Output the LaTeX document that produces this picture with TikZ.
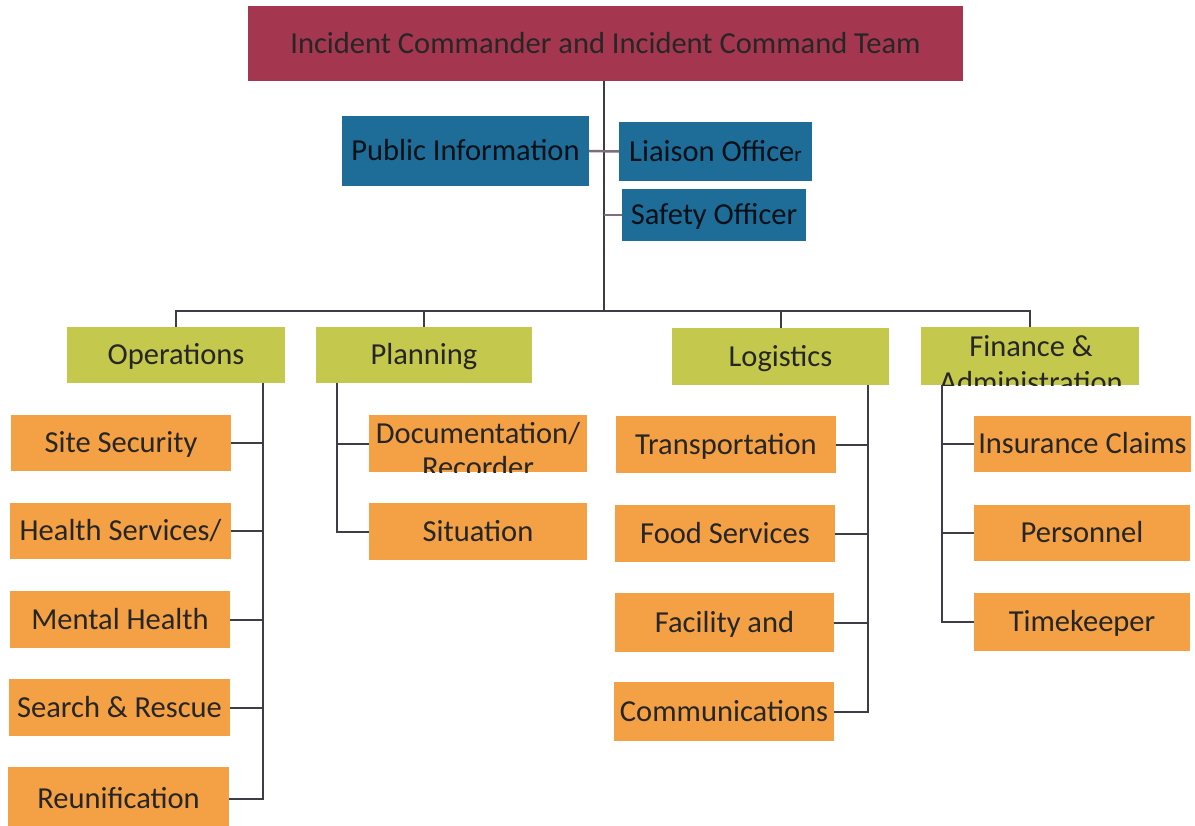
\documentclass[tikz,border=0pt]{standalone}
\usepackage{fontspec}
\setmainfont{Carlito}
\newcommand\dfont{\fontsize{30.5}{35}\selectfont}
\definecolor{cred}{HTML}{A5364F}
\definecolor{cblue}{HTML}{1E6C98}
\definecolor{cyel}{HTML}{C4C84C}
\definecolor{corg}{HTML}{F4A044}
\definecolor{txt}{HTML}{262626}
\definecolor{linec}{HTML}{3E3C46}
\definecolor{linel}{HTML}{7E6E7A}
\tikzset{
  box/.style={draw=none, inner sep=0pt, text height=19.6pt, text depth=0pt, font=\dfont, text=txt},
  redbox/.style={box, fill=cred},
  bluebox/.style={box, fill=cblue, text=black!85!cblue},
  yelbox/.style={box, fill=cyel},
  orgbox/.style={box, fill=corg},
  plain/.style={inner sep=0pt, font=\dfont, text=txt},
  conn/.style={draw=linec, line width=2pt},
  connl/.style={draw=linel, line width=2.5pt}
}
\begin{document}
\begin{tikzpicture}[x=1pt, y=-1pt]
\fill[white] (0,0) rectangle (1195,826);
\useasboundingbox (0,0) rectangle (1195,826);

% top
\node[redbox, minimum width=715, minimum height=75] (top) at (605.5,43.5) {Incident Commander and Incident Command Team};
\node[bluebox, minimum width=247, minimum height=70] (pub) at (465.5,151) {Public Information};
\node[bluebox, minimum width=193, minimum height=59] (liai) at (715.5,151.5) {Liaison Office{\fontsize{21}{21}\selectfont r}};
\node[bluebox, minimum width=184, minimum height=52] (safe) at (714,215) {Safety Officer};

% sections
\node[yelbox, minimum width=218, minimum height=56] (ops) at (176,355) {Operations};
\node[yelbox, minimum width=216, minimum height=56] (pln) at (424,355) {Planning};
\node[yelbox, minimum width=217, minimum height=57] (log) at (780.5,356.5) {Logistics};
\node[yelbox, minimum width=218, minimum height=58] (fin) at (1030,356) {};
\begin{scope}
  \clip (fin.south west) rectangle (fin.north east);
  \node[plain, anchor=base] (fin1) at (1031,357) {Finance \&};
  \node[plain, anchor=base] (fin2) at (1031,392) {Administration};
\end{scope}

% operations children
\node[orgbox, minimum width=220, minimum height=56] (site) at (121,443) {Site Security};
\node[orgbox, minimum width=221, minimum height=56] (hlth) at (120.5,531) {Health Services/};
\node[orgbox, minimum width=220, minimum height=57] (ment) at (120,619.5) {Mental Health};
\node[orgbox, minimum width=221, minimum height=57] (srch) at (119.5,707.5) {Search \& Rescue};
\node[orgbox, minimum width=221, minimum height=63] (reun) at (118.5,798.5) {Reunification};

% planning children
\node[orgbox, minimum width=218, minimum height=57] (doc) at (478,443.5) {};
\begin{scope}
  \clip (doc.south west) rectangle (doc.north east);
  \node[plain, anchor=base] (doc1) at (478,443) {Documentation/};
  \node[plain, anchor=base] (doc2) at (478,478) {Recorder};
\end{scope}
\node[orgbox, minimum width=218, minimum height=57] (sit) at (478,531.5) {Situation};

% logistics children
\node[orgbox, minimum width=220, minimum height=57] (trn) at (726,444.5) {Transportation};
\node[orgbox, minimum width=220, minimum height=57] (food) at (725,533.5) {Food Services};
\node[orgbox, minimum width=219, minimum height=59] (fac) at (724.5,622.5) {Facility and};
\node[orgbox, minimum width=220, minimum height=59] (comm) at (724,711.5) {Communications};

% finance children
\node[orgbox, minimum width=217, minimum height=56] (ins) at (1082.5,444) {Insurance Claims};
\node[orgbox, minimum width=216, minimum height=56] (pers) at (1082,533) {Personnel};
\node[orgbox, minimum width=216, minimum height=58] (time) at (1082,622) {Timekeeper};

% connector coordinates
\coordinate (busC) at (604,311);
\coordinate (opsT) at (263,383);
\coordinate (plnT) at (337,383);
\coordinate (logT) at (868,385);
\coordinate (finT) at (942,385);

% connectors
\draw[conn] (top.south -| busC) -- (busC);
\draw[connl] (pub.east) -- (liai.west);
\draw[connl] (safe.west -| busC) -- (safe.west);
\draw[conn] (ops.north) |- (busC) -| (fin.north);
\draw[conn] (pln.north) -- (pln.north |- busC);
\draw[conn] (log.north) -- (log.north |- busC);

\draw[conn] (opsT) |- (reun.east);
\draw[conn] (site.east) -- (site.east -| opsT);
\draw[conn] (hlth.east) -- (hlth.east -| opsT);
\draw[conn] (ment.east) -- (ment.east -| opsT);
\draw[conn] (srch.east) -- (srch.east -| opsT);

\draw[conn] (plnT) |- (sit.west);
\draw[conn] (doc.west) -- (doc.west -| plnT);

\draw[conn] (logT) |- (comm.east);
\draw[conn] (trn.east) -- (trn.east -| logT);
\draw[conn] (food.east) -- (food.east -| logT);
\draw[conn] (fac.east) -- (fac.east -| logT);

\draw[conn] (finT) |- (time.west);
\draw[conn] (ins.west) -- (ins.west -| finT);
\draw[conn] (pers.west) -- (pers.west -| finT);
\end{tikzpicture}
\end{document}
